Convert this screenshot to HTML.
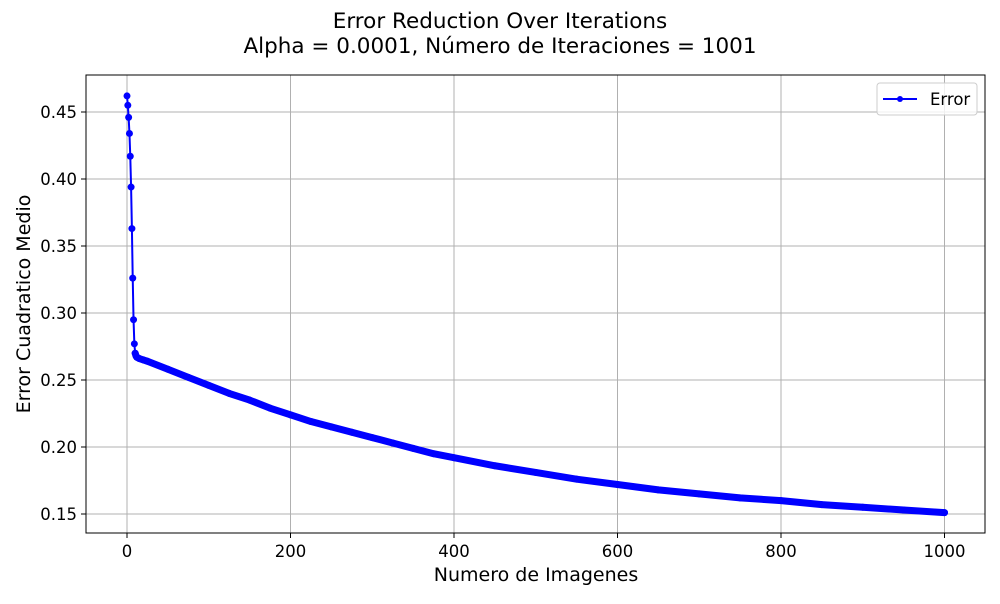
<!DOCTYPE html>
<html><head><meta charset="utf-8"><style>
body{margin:0;background:#fff;font-family:"DejaVu Sans","Liberation Sans",sans-serif}
svg text{font-family:"DejaVu Sans","Liberation Sans",sans-serif}
</style></head><body>
<svg id="chart" width="1000" height="600" xmlns="http://www.w3.org/2000/svg">
<text x="500" y="28" text-anchor="middle" font-size="21.5">Error Reduction Over Iterations</text>
<text x="500" y="53" text-anchor="middle" font-size="21.5">Alpha = 0.0001, Número de Iteraciones = 1001</text>
<g id="grid"></g>
<g id="series"></g>
<rect x="86" y="75" width="899" height="458" fill="none" stroke="#000" stroke-width="1"/>
<g id="ticks"></g>
<text x="536" y="581" text-anchor="middle" font-size="19">Numero de Imagenes</text>
<text transform="translate(30,304) rotate(-90)" text-anchor="middle" font-size="19">Error Cuadratico Medio</text>
<g>
<rect x="877" y="83" width="100" height="32" rx="3" fill="#fff" fill-opacity="0.8" stroke="#ccc"/>
<line x1="883" y1="99" x2="917" y2="99" stroke="#00f" stroke-width="2"/>
<circle cx="900" cy="99" r="3" fill="#00f"/>
<text x="930" y="105" font-size="16.5">Error</text>
</g>
</svg>
<script>
const iterations=[0,1,2,3,4,5,6,7,8,9,10,11,12,15,20,25,50,75,100,125,150,175,200,225,250,275,300,325,350,375,400,450,500,550,600,650,700,750,800,850,900,950,1000];
const errors=[0.462,0.455,0.446,0.434,0.417,0.394,0.363,0.326,0.295,0.277,0.270,0.268,0.267,0.266,0.265,0.264,0.258,0.252,0.246,0.240,0.235,0.229,0.224,0.219,0.215,0.211,0.207,0.203,0.199,0.195,0.192,0.186,0.181,0.176,0.172,0.168,0.165,0.162,0.160,0.157,0.155,0.153,0.151];
const xTicks=[0,200,400,600,800,1000];
const yTicks=[0.15,0.20,0.25,0.30,0.35,0.40,0.45];
const yLabels=["0.15","0.20","0.25","0.30","0.35","0.40","0.45"];
const NS="http://www.w3.org/2000/svg";
const X=v=>127+v*0.8175;
const Y=v=>112+(0.45-v)*1340;
function mk(t,a,p){const e=document.createElementNS(NS,t);for(const k in a)e.setAttribute(k,a[k]);p.appendChild(e);return e;}
const grid=document.getElementById('grid'),ticks=document.getElementById('ticks'),ser=document.getElementById('series');
xTicks.forEach(v=>{
 const g=mk('line',{x1:X(v),x2:X(v),y1:75,y2:533,stroke:'#b0b0b0','stroke-width':1},grid);
 
 
 const t=mk('line',{x1:X(v),x2:X(v),y1:533,y2:538,stroke:'#000'},ticks);
 
 
 const l=mk('text',{x:X(v),y:557,'text-anchor':'middle','font-size':16.5},ticks);
 l.textContent=v;
 
 
});
yTicks.forEach((v,i)=>{
 const g=mk('line',{x1:86,x2:985,y1:Y(v),y2:Y(v),stroke:'#b0b0b0','stroke-width':1},grid);
 
 
 const t=mk('line',{x1:81,x2:86,y1:Y(v),y2:Y(v),stroke:'#000'},ticks);
 
 
 const l=mk('text',{x:77,y:Y(v)+6,'text-anchor':'end','font-size':16.5},ticks);
 l.textContent=yLabels[i];
 
 
});
const pts=iterations.map((v,i)=>X(v)+','+Y(errors[i])).join(' ');
const ln=mk('polyline',{points:pts,fill:'none',stroke:'#00f','stroke-width':2},ser);


const tail=iterations.map((v,i)=>v>=10?X(v)+','+Y(errors[i]):null).filter(p=>p).join(' ');
const th=mk('polyline',{points:tail,fill:'none',stroke:'#00f','stroke-width':7,'stroke-linecap':'round','stroke-linejoin':'round'},ser);


iterations.forEach((v,i)=>{
 const c=mk('circle',{cx:X(v),cy:Y(errors[i]),r:3.5,fill:'#00f'},ser);
 
 
});
</script>
</body></html>
